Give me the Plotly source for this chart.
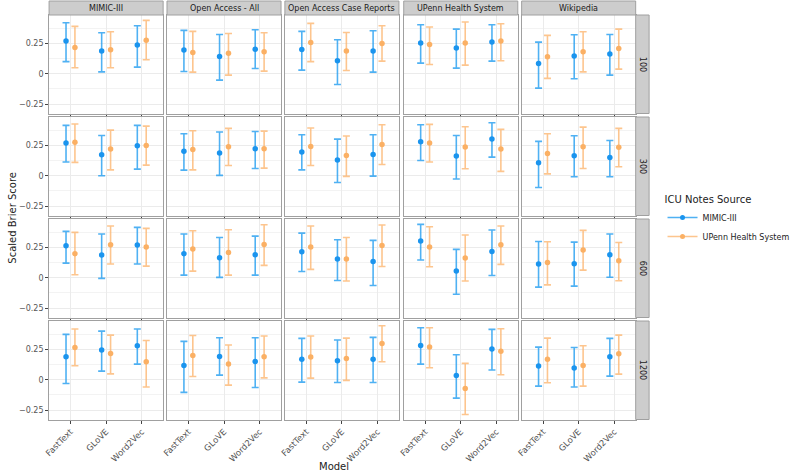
import plotly.graph_objects as go

# ---------------- data ----------------
embed_sources = ["MIMIC-III", "Open Access - All", "Open Access Case Reports",
                 "UPenn Health System", "Wikipedia"]
dims = ["100", "300", "600", "1200"]
models = ["FastText", "GLoVE", "Word2Vec"]
icu_sources = ["MIMIC-III", "UPenn Health System"]

# [dim][embedding source][model]
mimic_est = [
    [[0.269, 0.187, 0.236], [0.195, 0.143, 0.203], [0.200, 0.107, 0.187], [0.253, 0.212, 0.261], [0.085, 0.146, 0.162]],
    [[0.269, 0.173, 0.247], [0.203, 0.187, 0.223], [0.195, 0.129, 0.176], [0.280, 0.162, 0.302], [0.107, 0.165, 0.151]],
    [[0.264, 0.187, 0.269], [0.198, 0.165, 0.190], [0.214, 0.154, 0.135], [0.302, 0.055, 0.217], [0.113, 0.115, 0.190]],
    [[0.190, 0.245, 0.280], [0.118, 0.192, 0.151], [0.170, 0.157, 0.170], [0.283, 0.036, 0.253], [0.113, 0.096, 0.190]],
]
mimic_lo = [
    [[0.100, 0.016, 0.055], [0.019, -0.052, 0.044], [0.030, -0.088, 0.014], [0.088, 0.047, 0.104], [-0.118, -0.041, -0.011]],
    [[0.113, 0.000, 0.055], [0.047, 0.003, 0.060], [0.049, -0.055, -0.003], [0.126, -0.027, 0.154], [-0.096, -0.008, -0.008]],
    [[0.121, -0.005, 0.113], [0.022, 0.003, 0.022], [0.052, -0.022, -0.063], [0.146, -0.135, 0.019], [-0.077, -0.069, 0.005]],
    [[-0.030, 0.071, 0.129], [-0.104, 0.038, -0.063], [-0.019, -0.022, -0.022], [0.129, -0.151, 0.080], [-0.052, -0.060, 0.030]],
]
mimic_hi = [
    [[0.420, 0.338, 0.396], [0.357, 0.324, 0.363], [0.349, 0.280, 0.354], [0.404, 0.368, 0.404], [0.261, 0.321, 0.324]],
    [[0.415, 0.332, 0.415], [0.346, 0.360, 0.365], [0.338, 0.302, 0.338], [0.420, 0.332, 0.437], [0.283, 0.330, 0.291]],
    [[0.382, 0.360, 0.415], [0.360, 0.332, 0.343], [0.368, 0.313, 0.308], [0.440, 0.234, 0.393], [0.299, 0.294, 0.360]],
    [[0.374, 0.401, 0.418], [0.316, 0.346, 0.346], [0.341, 0.327, 0.349], [0.429, 0.206, 0.415], [0.269, 0.266, 0.341]],
]
upenn_est = [
    [[0.217, 0.198, 0.277], [0.176, 0.170, 0.181], [0.258, 0.187, 0.250], [0.242, 0.253, 0.269], [0.140, 0.181, 0.209]],
    [[0.277, 0.220, 0.250], [0.217, 0.239, 0.223], [0.242, 0.168, 0.258], [0.269, 0.236, 0.220], [0.184, 0.239, 0.234]],
    [[0.198, 0.272, 0.253], [0.236, 0.209, 0.275], [0.253, 0.154, 0.266], [0.253, 0.162, 0.272], [0.126, 0.228, 0.140]],
    [[0.266, 0.217, 0.148], [0.200, 0.129, 0.190], [0.187, 0.176, 0.299], [0.269, -0.071, 0.234], [0.170, 0.118, 0.214]],
]
upenn_lo = [
    [[0.050, 0.050, 0.115], [0.014, -0.011, 0.022], [0.100, 0.027, 0.104], [0.077, 0.071, 0.107], [-0.038, 0.016, 0.038]],
    [[0.110, 0.049, 0.088], [0.049, 0.085, 0.063], [0.085, -0.005, 0.093], [0.113, 0.058, 0.036], [0.016, 0.060, 0.074]],
    [[0.025, 0.113, 0.096], [0.055, 0.022, 0.102], [0.069, -0.027, 0.093], [0.091, -0.027, 0.110], [-0.058, 0.063, -0.025]],
    [[0.115, 0.049, -0.060], [0.027, -0.044, 0.016], [0.014, -0.005, 0.148], [0.099, -0.286, 0.041], [-0.025, -0.052, 0.047]],
]
upenn_hi = [
    [[0.390, 0.346, 0.440], [0.349, 0.332, 0.338], [0.415, 0.340, 0.396], [0.385, 0.426, 0.412], [0.316, 0.346, 0.368]],
    [[0.426, 0.376, 0.409], [0.371, 0.390, 0.368], [0.393, 0.327, 0.420], [0.423, 0.404, 0.382], [0.346, 0.401, 0.390]],
    [[0.374, 0.426, 0.407], [0.387, 0.396, 0.437], [0.426, 0.332, 0.434], [0.420, 0.352, 0.426], [0.297, 0.390, 0.291]],
    [[0.418, 0.368, 0.324], [0.365, 0.286, 0.360], [0.360, 0.343, 0.445], [0.429, 0.135, 0.420], [0.343, 0.280, 0.368]],
]

y_ticks = [-0.25, 0, 0.25]
y_tick_labels = ["\u22120.25", "0", "0.25"]

# ---------------- layout geometry (pixels) ----------------
W, H = 795, 474
col_left = [46, 169, 292, 416, 539]
col_w = 119
row_top = [15, 117, 219, 321]
row_h = 98.5
strip_h = 14
rstrip_w = 14

FONT = "DejaVu Sans"
BLUE_PT, BLUE_BAR = "#1a94ee", "rgba(30,155,240,0.78)"
ORG_PT, ORG_BAR = "#fbb064", "rgba(252,178,104,0.75)"
STRIP_FILL, STRIP_LINE = "#cdcdcd", "#a0a0a0"
dodge = 0.125

def px_x(p):
    return p / W

def px_y(p):
    return 1 - p / H

fig = go.Figure()
layout = {}
shapes = []
annotations = []

series = [
    (icu_sources[0], mimic_est, mimic_lo, mimic_hi, BLUE_PT, BLUE_BAR, -dodge),
    (icu_sources[1], upenn_est, upenn_lo, upenn_hi, ORG_PT, ORG_BAR, dodge),
]

for r in range(4):
    for c in range(5):
        n = r * 5 + c + 1
        xa = "x" if n == 1 else f"x{n}"
        ya = "y" if n == 1 else f"y{n}"
        for name, est, lo, hi, pc, bc, off in series:
            e = est[r][c]
            l = lo[r][c]
            h = hi[r][c]
            fig.add_trace(go.Scatter(
                x=[i + 1 + off for i in range(len(models))], y=e,
                mode="markers", name=name, showlegend=False,
                marker=dict(color=pc, size=5.5),
                error_y=dict(type="data", symmetric=False,
                             array=[h[i] - e[i] for i in range(3)],
                             arrayminus=[e[i] - l[i] for i in range(3)],
                             color=bc, thickness=1.6, width=3.5),
                xaxis=xa, yaxis=ya, hoverinfo="skip"))
        x0 = col_left[c]
        y0 = row_top[r]
        xkey = "xaxis" if n == 1 else f"xaxis{n}"
        ykey = "yaxis" if n == 1 else f"yaxis{n}"
        layout[xkey] = dict(
            domain=[px_x(x0), px_x(x0 + col_w)], anchor=ya,
            range=[0.4, 3.6], tickvals=[1, 2, 3],
            ticktext=models if r == 3 else [""] * 3,
            showticklabels=(r == 3), tickangle=-45,
            ticks="outside", ticklen=3, tickcolor="#444", tickwidth=0.8,
            showgrid=True, gridcolor="#ebebeb", gridwidth=0.8,
            showline=True, mirror=True, linecolor="#a0a0a0", linewidth=1,
            zeroline=False, tickfont=dict(family=FONT, size=8.5, color="#555"))
        layout[ykey] = dict(
            domain=[px_y(y0 + row_h), px_y(y0)], anchor=xa,
            range=[-0.327, 0.484], tickvals=y_ticks, ticktext=y_tick_labels,
            showticklabels=(c == 0),
            ticks="outside" if c == 0 else "", ticklen=3, tickcolor="#444", tickwidth=0.8,
            showgrid=True, gridcolor="#ebebeb", gridwidth=0.8,
            minor=dict(tickvals=[-0.125, 0.125, 0.375], showgrid=True,
                       gridcolor="#f3f3f3", gridwidth=0.6, ticks=""),
            showline=True, mirror=True, linecolor="#a0a0a0", linewidth=1,
            zeroline=False, tickfont=dict(family=FONT, size=8, color="#555"))

# top strips
for c, s in enumerate(embed_sources):
    x0 = col_left[c]
    shapes.append(dict(type="rect", xref="paper", yref="paper",
                       x0=px_x(x0), x1=px_x(x0 + col_w),
                       y0=px_y(row_top[0]), y1=px_y(row_top[0] - strip_h),
                       fillcolor=STRIP_FILL, line=dict(color=STRIP_LINE, width=1)))
    annotations.append(dict(text=s, xref="paper", yref="paper",
                            x=px_x(x0 + col_w / 2), y=px_y(row_top[0] - strip_h / 2),
                            showarrow=False, xanchor="center", yanchor="middle",
                            font=dict(family=FONT, size=8, color="#1a1a1a")))
# right strips
xr = col_left[4] + col_w
for r, d in enumerate(dims):
    y0 = row_top[r]
    shapes.append(dict(type="rect", xref="paper", yref="paper",
                       x0=px_x(xr), x1=px_x(xr + rstrip_w),
                       y0=px_y(y0 + row_h), y1=px_y(y0),
                       fillcolor=STRIP_FILL, line=dict(color=STRIP_LINE, width=1)))
    annotations.append(dict(text=d, xref="paper", yref="paper",
                            x=px_x(xr + rstrip_w / 2), y=px_y(y0 + row_h / 2),
                            showarrow=False, xanchor="center", yanchor="middle",
                            textangle=90,
                            font=dict(family=FONT, size=8, color="#1a1a1a")))

# axis titles
annotations.append(dict(text="Scaled Brier Score", xref="paper", yref="paper",
                        x=px_x(8), y=px_y(218), showarrow=False, textangle=-90,
                        xanchor="center", yanchor="middle",
                        font=dict(family=FONT, size=10, color="#222")))
annotations.append(dict(text="Model", xref="paper", yref="paper",
                        x=px_x(343), y=px_y(466), showarrow=False,
                        xanchor="center", yanchor="middle",
                        font=dict(family=FONT, size=10, color="#222")))

# legend entries
for name, pc, bc in [(icu_sources[0], BLUE_PT, BLUE_BAR), (icu_sources[1], ORG_PT, ORG_BAR)]:
    fig.add_trace(go.Scatter(x=[None], y=[None], mode="lines+markers", name=name,
                             marker=dict(color=pc, size=5),
                             line=dict(color=bc, width=1.6),
                             showlegend=True, hoverinfo="skip"))

fig.update_layout(
    width=W, height=H, margin=dict(l=0, r=0, t=0, b=0),
    paper_bgcolor="white", plot_bgcolor="white",
    shapes=shapes, annotations=annotations,
    legend=dict(x=px_x(686), y=px_y(190), xanchor="left", yanchor="top",
                title=dict(text="ICU Notes Source", font=dict(family=FONT, size=10, color="#222")),
                font=dict(family=FONT, size=8, color="#222"),
                itemwidth=30, tracegroupgap=0, bgcolor="rgba(0,0,0,0)"),
    **layout)

fig.write_html("out.html", config={"displayModeBar": False},
               post_script="document.body.style.margin='0';document.body.style.padding='0';document.body.style.overflow='hidden';")
